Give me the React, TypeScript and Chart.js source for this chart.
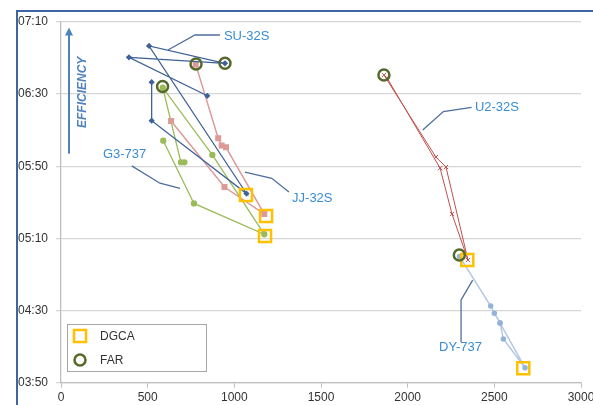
import React, { useEffect, useRef } from 'react';
import { Chart, registerables } from 'chart.js';

Chart.register(...registerables);

// ---- data (x: distance, y: minutes since 00:00) ----
const suX = [844, 392, 946, 508, 1070, 523, 523];
const suY = [389.1, 410.4, 407.1, 416.7, 334.9, 375.3, 396.6];
const jjX = [777, 907, 927, 952, 1173, 943, 635];
const jjY = [406.5, 365.5, 361.5, 360.5, 323.5, 338.5, 375.1];
const g3X = [712, 692, 587, 873, 1173, 767, 590];
const g3Y = [352.2, 352.2, 393.6, 356.3, 312.3, 329.4, 364.2];
const u2X = [1863, 2163, 2221, 2348, 2256, 2187, 1881];
const u2Y = [400.6, 355.1, 349.6, 298, 323.5, 349, 399];
const dyX = [2299, 2479, 2500, 2533, 2552, 2677, 2533];
const dyY = [300, 272.5, 268.5, 263.3, 254.2, 238.3, 263];
const dgcaX = [1067, 1183, 1177, 2344, 2667];
const dgcaY = [334.1, 322.4, 311.3, 298, 238];
const farX = [779, 946, 586, 1863, 2298];
const farY = [406.7, 407.1, 394.2, 400.6, 300.8];

// callout labels and leader lines
const labelText = ['SU-32S', 'U2-32S', 'G3-737', 'JJ-32S', 'DY-737'];
const labelX = [940, 2388, 242, 1333, 2181];
const labelY = [422.2, 382.9, 356.8, 332.4, 249.4];
const leadX = [
  [917, 773, 617],
  [2369, 2206, 2087],
  [408, 571, 687],
  [1061, 1216, 1315],
  [2375, 2308, 2308],
];
const leadY = [
  [422.8, 422.8, 414.5],
  [382.7, 380.3, 370.1],
  [350.2, 340.6, 337.8],
  [346.7, 343.3, 335.7],
  [286.9, 275.9, 252.6],
];
const arrowX = 46;
const arrowFromY = 357;
const arrowToY = 427;
const effX = 127;
const effY = 391;

const legendItems = ['DGCA', 'FAR'];

const pts = (xs: number[], ys: number[]) => xs.map((x, i) => ({ x, y: ys[i] }));

const fmt = (v: number) => {
  const h = Math.floor(v / 60);
  const m = Math.round(v - h * 60);
  return String(h).padStart(2, '0') + ':' + String(m).padStart(2, '0');
};

const FONT = '"Liberation Sans", Arial, sans-serif';

const overlay = {
  id: 'overlay',
  afterDatasetsDraw(chart: any) {
    const { ctx } = chart;
    const x = chart.scales.x;
    const y = chart.scales.y;
    ctx.save();
    // callout labels
    ctx.font = '13px ' + FONT;
    ctx.fillStyle = '#3a8cd6';
    ctx.textBaseline = 'middle';
    ctx.textAlign = 'left';
    labelText.forEach((t, i) => {
      ctx.fillText(t, x.getPixelForValue(labelX[i]), y.getPixelForValue(labelY[i]));
    });
    // efficiency arrow
    const ax = x.getPixelForValue(arrowX);
    const ay1 = y.getPixelForValue(arrowFromY);
    const ay2 = y.getPixelForValue(arrowToY);
    ctx.strokeStyle = '#4f81bd';
    ctx.fillStyle = '#4f81bd';
    ctx.lineWidth = 2;
    ctx.beginPath();
    ctx.moveTo(ax, ay1);
    ctx.lineTo(ax, ay2 + 6);
    ctx.stroke();
    ctx.beginPath();
    ctx.moveTo(ax, ay2);
    ctx.lineTo(ax - 4, ay2 + 8);
    ctx.lineTo(ax + 4, ay2 + 8);
    ctx.closePath();
    ctx.fill();
    // EFFICIENCY text
    ctx.save();
    ctx.translate(x.getPixelForValue(effX), y.getPixelForValue(effY));
    ctx.rotate(-Math.PI / 2);
    ctx.font = 'italic bold 12px ' + FONT;
    ctx.fillStyle = '#4f81bd';
    ctx.textAlign = 'center';
    ctx.textBaseline = 'middle';
    ctx.fillText('EFFICIENCY', 0, 0);
    ctx.restore();
    // legend box
    ctx.strokeStyle = '#a6a6a6';
    ctx.lineWidth = 1;
    ctx.strokeRect(67.5, 324.5, 139, 47);
    ctx.lineWidth = 2.5;
    ctx.strokeStyle = '#ffc000';
    ctx.strokeRect(74, 330, 12, 12);
    ctx.strokeStyle = '#55692a';
    ctx.beginPath();
    ctx.arc(80, 360, 5.5, 0, Math.PI * 2);
    ctx.stroke();
    ctx.font = '12px ' + FONT;
    ctx.fillStyle = '#333';
    ctx.textAlign = 'left';
    ctx.fillText(legendItems[0], 100, 337);
    ctx.fillText(legendItems[1], 100, 361);
    ctx.restore();
  },
};

export default function App() {
  const ref = useRef<HTMLCanvasElement>(null);
  useEffect(() => {
    if (!ref.current) return;
    const leaders = leadX.map((xs, i) => ({
      label: 'leader' + i,
      data: pts(xs, leadY[i]),
      showLine: true,
      borderColor: '#4f6f9b',
      borderWidth: 1.3,
      pointRadius: 0,
      tension: 0,
    }));
    const chart = new Chart(ref.current, {
      type: 'scatter',
      data: {
        datasets: [
          {
            label: 'FAR',
            data: pts(farX, farY),
            pointStyle: 'circle',
            pointRadius: 5.5,
            borderColor: '#55692a',
            backgroundColor: 'rgba(0,0,0,0)',
            borderWidth: 2.5,
            showLine: false,
          },
          {
            label: 'DGCA',
            data: pts(dgcaX, dgcaY),
            pointStyle: 'rect',
            pointRadius: 8.5,
            borderColor: '#ffc000',
            backgroundColor: 'rgba(0,0,0,0)',
            borderWidth: 2.5,
            showLine: false,
          },
          {
            label: 'SU-32S',
            data: pts(suX, suY),
            showLine: true,
            borderColor: '#3f6398',
            backgroundColor: '#3f6398',
            borderWidth: 1.3,
            pointStyle: 'rectRot',
            pointRadius: 2.2,
            tension: 0,
          },
          {
            label: 'JJ-32S',
            data: pts(jjX, jjY),
            showLine: true,
            borderColor: '#dc9a98',
            backgroundColor: '#dc9a98',
            borderWidth: 1.5,
            pointStyle: 'rect',
            pointRadius: 3.2,
            tension: 0,
          },
          {
            label: 'G3-737',
            data: pts(g3X, g3Y),
            showLine: true,
            borderColor: '#9bbb59',
            backgroundColor: '#9bbb59',
            borderWidth: 1.3,
            pointStyle: 'circle',
            pointRadius: 2.5,
            tension: 0,
          },
          {
            label: 'U2-32S',
            data: pts(u2X, u2Y),
            showLine: true,
            borderColor: '#c0504d',
            backgroundColor: '#c0504d',
            borderWidth: 1,
            pointStyle: 'crossRot',
            pointRadius: 3,
            tension: 0,
          },
          {
            label: 'DY-737',
            data: pts(dyX, dyY),
            showLine: true,
            borderColor: '#b4c8e4',
            backgroundColor: '#95b3d7',
            pointBorderColor: '#95b3d7',
            borderWidth: 1.5,
            pointStyle: 'circle',
            pointRadius: 2,
            tension: 0,
          },
          ...leaders,
        ],
      },
      options: {
        responsive: false,
        animation: false,
        events: [],
        layout: { padding: { left: 0, top: 22, right: 12, bottom: 0 } },
        plugins: { legend: { display: false }, tooltip: { enabled: false } },
        scales: {
          x: {
            type: 'linear',
            min: 0,
            max: 3000,
            ticks: {
              stepSize: 500,
              color: '#333',
              font: { family: FONT, size: 12 },
              padding: 3,
              maxRotation: 0,
              callback: (v: any) => String(v),
            },
            grid: { drawOnChartArea: false, drawTicks: true, tickLength: 5, color: '#bfbfbf' },
            border: { color: '#bfbfbf', width: 1.3 },
            afterFit: (s: any) => {
              s.height = 22.3;
              s.paddingLeft = 0;
              s.paddingRight = 0;
            },
          },
          y: {
            type: 'linear',
            min: 230,
            max: 430,
            ticks: {
              stepSize: 40,
              color: '#333',
              font: { family: FONT, size: 12 },
              padding: 8,
              callback: (v: any) => fmt(Number(v)),
            },
            grid: { color: '#d6d6d6', lineWidth: 1.3, drawTicks: true, tickLength: 5 },
            border: { color: '#bfbfbf', width: 1.3 },
            afterFit: (s: any) => {
              s.width = 61;
              s.paddingTop = 0;
              s.paddingBottom = 0;
            },
          },
        },
      },
      plugins: [overlay],
    });
    return () => chart.destroy();
  }, []);

  return (
    <div style={{ position: 'fixed', left: 0, top: 0, width: 593, height: 405, background: '#fff', overflow: 'hidden' }}>
      <div
        style={{
          position: 'absolute',
          left: 16,
          top: 10,
          width: 600,
          height: 420,
          borderTop: '2px solid #3d66a3',
          borderLeft: '2px solid #3d66a3',
        }}
      />
      <canvas ref={ref} width={593} height={405} style={{ position: 'absolute', left: 0, top: 0 }} />
    </div>
  );
}
